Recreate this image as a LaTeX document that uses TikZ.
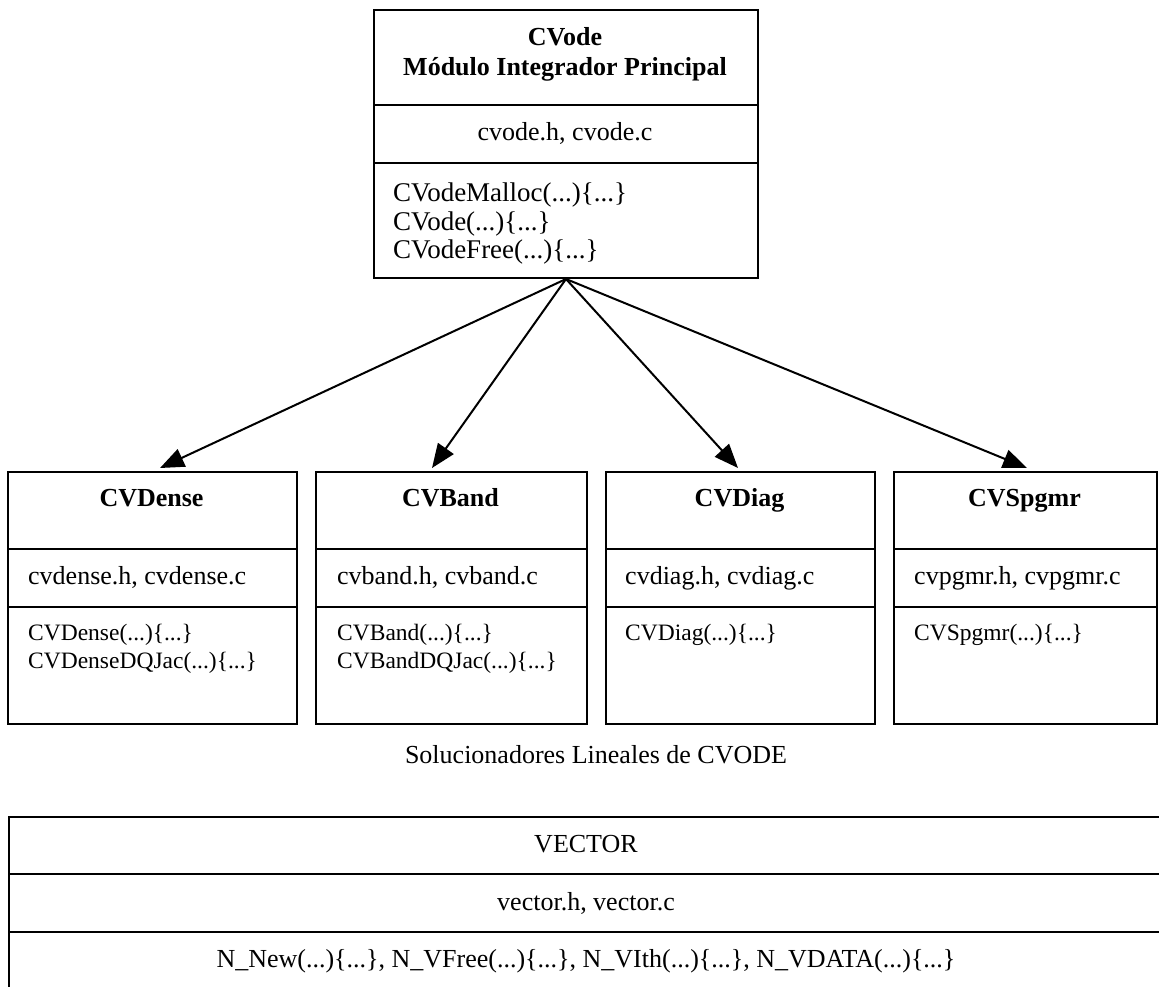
\documentclass[tikz,border=0pt]{standalone}
\usepackage{fontspec}
\setmainfont{Liberation Serif}
\usetikzlibrary{arrows.meta}
\begin{document}
\begin{tikzpicture}[x=1pt,y=-1pt,
  frame/.style={draw=black, line width=2pt, rectangle, inner sep=0pt, anchor=north west},
  rule/.style={line width=2pt},
  body/.style={font=\fontsize{26}{30}\selectfont, inner sep=0pt},
  large/.style={font=\fontsize{27}{30}\selectfont, inner sep=0pt},
  small/.style={font=\fontsize{23.5}{28}\selectfont, inner sep=0pt},
  head/.style={font=\fontsize{26}{30}\selectfont\bfseries, inner sep=0pt},
  link/.style={line width=2pt, -{Triangle[length=24pt,width=19pt]}}]
\useasboundingbox (0,0) rectangle (1159,986);
\clip (0,0) rectangle (1159,986);

% main integrator module
\node[frame, minimum width=384pt, minimum height=268pt] (cvode) at (373,9) {};
\draw[rule] (373,105) -- (757,105);
\draw[rule] (373,163) -- (757,163);
\node[head, anchor=base] (cvtitle) at (565,45) {CVode};
\node[head, anchor=base] (cvsub) at (565,75) {Módulo Integrador Principal};
\node[body, anchor=base] (cvfiles) at (565,140) {cvode.h, cvode.c};
\node[large, anchor=base west] (cvm1) at (393,201) {CVodeMalloc(...)\{...\}};
\node[large, anchor=base west] (cvm2) at (393,230) {CVode(...)\{...\}};
\node[large, anchor=base west] (cvm3) at (393,258) {CVodeFree(...)\{...\}};

% linear solver modules
\node[frame, minimum width=289pt, minimum height=252pt] (dense) at (7,471) {};
\draw[rule] (7,549) -- (296,549);
\draw[rule] (7,607) -- (296,607);
\node[head, anchor=base] (dtitle) at (151.5,506) {CVDense};
\node[body, anchor=base west] (dfiles) at (28,584) {cvdense.h, cvdense.c};
\node[small, anchor=base west] (dm1) at (28,640) {CVDense(...)\{...\}};
\node[small, anchor=base west] (dm2) at (28,668) {CVDenseDQJac(...)\{...\}};

\node[frame, minimum width=271pt, minimum height=252pt] (band) at (315,471) {};
\draw[rule] (315,549) -- (586,549);
\draw[rule] (315,607) -- (586,607);
\node[head, anchor=base] (btitle) at (450.5,506) {CVBand};
\node[body, anchor=base west] (bfiles) at (337,584) {cvband.h, cvband.c};
\node[small, anchor=base west] (bm1) at (337,640) {CVBand(...)\{...\}};
\node[small, anchor=base west] (bm2) at (337,668) {CVBandDQJac(...)\{...\}};

\node[frame, minimum width=269pt, minimum height=252pt] (diag) at (605,471) {};
\draw[rule] (605,549) -- (874,549);
\draw[rule] (605,607) -- (874,607);
\node[head, anchor=base] (gtitle) at (739.5,506) {CVDiag};
\node[body, anchor=base west] (gfiles) at (625,584) {cvdiag.h, cvdiag.c};
\node[small, anchor=base west] (gm1) at (625,640) {CVDiag(...)\{...\}};

\node[frame, minimum width=263pt, minimum height=252pt] (spgmr) at (893,471) {};
\draw[rule] (893,549) -- (1156,549);
\draw[rule] (893,607) -- (1156,607);
\node[head, anchor=base] (stitle) at (1024.5,506) {CVSpgmr};
\node[body, anchor=base west] (sfiles) at (914,584) {cvpgmr.h, cvpgmr.c};
\node[small, anchor=base west] (sm1) at (914,640) {CVSpgmr(...)\{...\}};

% arrows from the integrator to each solver
\coordinate (tipdense) at (160,468);
\coordinate (tipband) at (432,468);
\coordinate (tipdiag) at (738,468);
\coordinate (tipspgmr) at (1027,468);
\draw[link] (cvode.south) -- (tipdense);
\draw[link] (cvode.south) -- (tipband);
\draw[link] (cvode.south) -- (tipdiag);
\draw[link] (cvode.south) -- (tipspgmr);

\node[body, anchor=base] (caption) at (596,763) {Solucionadores Lineales de CVODE};

% vector module
\node[frame, minimum width=1200pt, minimum height=220pt] (vector) at (8,816) {};
\draw[rule] (8,874) -- (1170,874);
\draw[rule] (8,932) -- (1170,932);
\node[body, anchor=base] (vtitle) at (586,852) {VECTOR};
\node[body, anchor=base] (vfiles) at (586,910) {vector.h, vector.c};
\node[body, anchor=base] (vm) at (586,967) {N\_New(...)\{...\}, N\_VFree(...)\{...\}, N\_VIth(...)\{...\}, N\_VDATA(...)\{...\}};
\end{tikzpicture}
\end{document}
